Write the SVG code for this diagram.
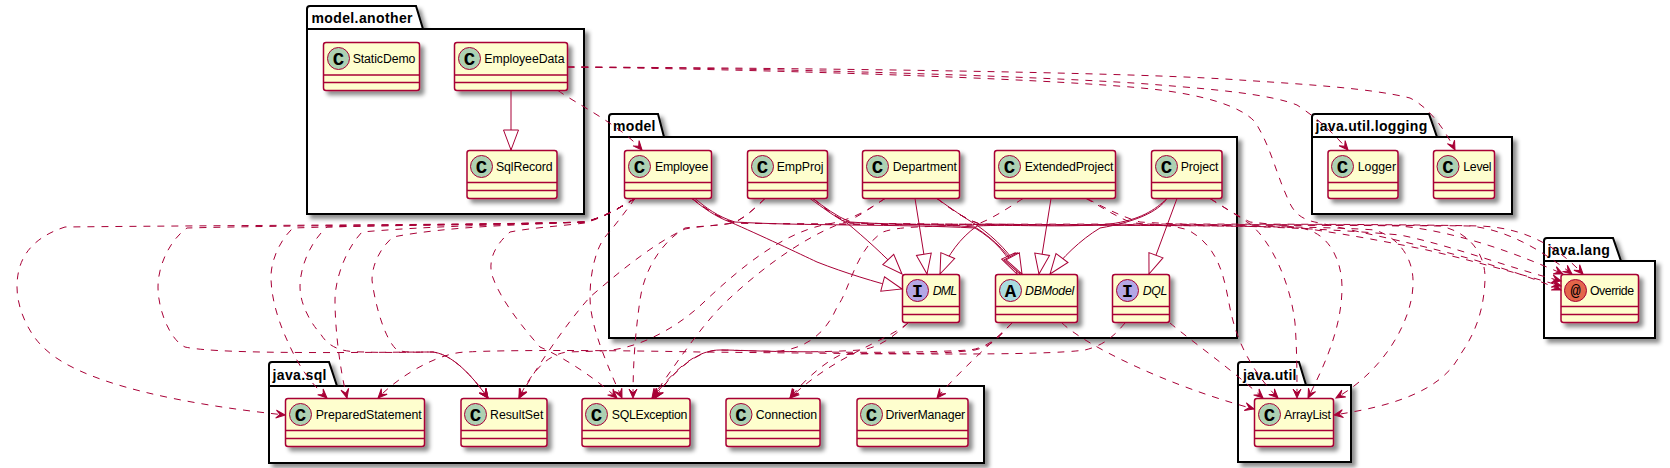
<svg xmlns="http://www.w3.org/2000/svg" width="1670" height="468" viewBox="0 0 1670 468">
<style>
text{font-family:"Liberation Sans",Arial,sans-serif}
.p{fill:#fff;stroke:#000;stroke-width:2;filter:url(#sh)}
.h{fill:none;stroke:#000;stroke-width:2}
.pt{font-size:14px;font-weight:bold;fill:#000}
.b{fill:#FEFECE;stroke:#A80036;stroke-width:1.5;filter:url(#sh)}
.s{stroke:#A80036;stroke-width:1.5;fill:none}
.c{stroke:#A80036;stroke-width:1}
.gc{font-family:"Liberation Mono",monospace;font-weight:bold;font-size:19px;fill:#000;text-anchor:middle}
.t{font-size:12.3px;fill:#000}
.i{font-style:italic}
.d{fill:none;stroke:#A80036;stroke-width:1;stroke-dasharray:7,7;marker-end:url(#ar)}
.e{fill:none;stroke:#A80036;stroke-width:1;marker-end:url(#tr)}
</style>
<defs>
<filter id="sh" x="-20%" y="-20%" width="150%" height="150%"><feDropShadow dx="4" dy="4" stdDeviation="2" flood-color="#000" flood-opacity="0.45"/></filter>
<marker id="ar" markerUnits="userSpaceOnUse" orient="auto" markerWidth="12" markerHeight="12" viewBox="-10 -6 12 12" refX="0" refY="0" overflow="visible"><path d="M0,0L-9,-4L-5,0L-9,4Z" fill="#A80036" stroke="#A80036" stroke-width="1"/></marker>
<marker id="tr" markerUnits="userSpaceOnUse" orient="auto" markerWidth="24" markerHeight="18" viewBox="-22 -9 24 18" refX="0" refY="0" overflow="visible"><path d="M0,0L-20,-7.5L-20,7.5Z" fill="#fff" stroke="#A80036" stroke-width="1"/></marker>
</defs>
<rect width="1670" height="468" fill="#fff"/>

<g id="packages">
<g id="pkg-model-another"><path class="p" d="M307,9Q307,6 310,6L416,6L423,29L584,29L584,214L307,214Z"/><path class="h" d="M307,29L423,29"/><text class="pt" x="311.5" y="23" textLength="101">model.another</text></g>
<g id="pkg-model"><path class="p" d="M609,117Q609,114 612,114L658,114L664,137L1237,137L1237,338L609,338Z"/><path class="h" d="M609,137L664,137"/><text class="pt" x="613" y="131" textLength="42.5">model</text></g>
<g id="pkg-java-util-logging"><path class="p" d="M1312,117Q1312,114 1315,114L1429,114L1437,137L1512,137L1512,214L1312,214Z"/><path class="h" d="M1312,137L1437,137"/><text class="pt" x="1315.5" y="131" textLength="111.7">java.util.logging</text></g>
<g id="pkg-java-lang"><path class="p" d="M1544,241Q1544,238 1547,238L1613,238L1621,261L1655,261L1655,338L1544,338Z"/><path class="h" d="M1544,261L1621,261"/><text class="pt" x="1547.5" y="255" textLength="62.3">java.lang</text></g>
<g id="pkg-java-sql"><path class="p" d="M269,365Q269,362 272,362L329,362L337,386L984,386L984,463L269,463Z"/><path class="h" d="M269,386L337,386"/><text class="pt" x="272.5" y="380" textLength="54">java.sql</text></g>
<g id="pkg-java-util"><path class="p" d="M1238,365Q1238,362 1241,362L1299,362L1306,385L1351,385L1351,462L1238,462Z"/><path class="h" d="M1238,385L1306,385"/><text class="pt" x="1243" y="380" textLength="53.3">java.util</text></g>
</g>

<g id="StaticDemo"><rect class="b" x="323.5" y="42.5" width="96" height="48" rx="2.5"/><path class="s" d="M323.5,75H419.5M323.5,82.5H419.5"/><circle class="c" cx="338.5" cy="58.5" r="11" fill="#ADD1B2"/><text class="gc" x="338.5" y="64.5">C</text><text class="t" x="352.7" y="63" textLength="62.7">StaticDemo</text></g>
<g id="EmployeeData"><rect class="b" x="454.5" y="42.5" width="113" height="48" rx="2.5"/><path class="s" d="M454.5,75H567.5M454.5,82.5H567.5"/><circle class="c" cx="469.5" cy="58.5" r="11" fill="#ADD1B2"/><text class="gc" x="469.5" y="64.5">C</text><text class="t" x="484.3" y="63" textLength="80.3">EmployeeData</text></g>
<g id="SqlRecord"><rect class="b" x="467" y="150.5" width="90" height="48" rx="2.5"/><path class="s" d="M467,182.5H557M467,190.5H557"/><circle class="c" cx="481.5" cy="166.5" r="11" fill="#ADD1B2"/><text class="gc" x="481.5" y="172.5">C</text><text class="t" x="496" y="171" textLength="56.7">SqlRecord</text></g>
<g id="Employee"><rect class="b" x="624.5" y="150.5" width="87" height="48" rx="2.5"/><path class="s" d="M624.5,182.5H711.5M624.5,190.5H711.5"/><circle class="c" cx="639.5" cy="166.5" r="11" fill="#ADD1B2"/><text class="gc" x="639.5" y="172.5">C</text><text class="t" x="655" y="171" textLength="53.3">Employee</text></g>
<g id="EmpProj"><rect class="b" x="747.5" y="150.5" width="80" height="48" rx="2.5"/><path class="s" d="M747.5,182.5H827.5M747.5,190.5H827.5"/><circle class="c" cx="762.5" cy="166.5" r="11" fill="#ADD1B2"/><text class="gc" x="762.5" y="172.5">C</text><text class="t" x="776.7" y="171" textLength="46.7">EmpProj</text></g>
<g id="Department"><rect class="b" x="862.5" y="150.5" width="97" height="48" rx="2.5"/><path class="s" d="M862.5,182.5H959.5M862.5,190.5H959.5"/><circle class="c" cx="877.5" cy="166.5" r="11" fill="#ADD1B2"/><text class="gc" x="877.5" y="172.5">C</text><text class="t" x="892.7" y="171" textLength="64.3">Department</text></g>
<g id="ExtendedProject"><rect class="b" x="994.5" y="150.5" width="121" height="48" rx="2.5"/><path class="s" d="M994.5,182.5H1115.5M994.5,190.5H1115.5"/><circle class="c" cx="1009.5" cy="166.5" r="11" fill="#ADD1B2"/><text class="gc" x="1009.5" y="172.5">C</text><text class="t" x="1024.7" y="171" textLength="88.7">ExtendedProject</text></g>
<g id="Project"><rect class="b" x="1151.5" y="150.5" width="70.5" height="48" rx="2.5"/><path class="s" d="M1151.5,182.5H1222M1151.5,190.5H1222"/><circle class="c" cx="1166.5" cy="166.5" r="11" fill="#ADD1B2"/><text class="gc" x="1166.5" y="172.5">C</text><text class="t" x="1180.7" y="171" textLength="37.7">Project</text></g>
<g id="DML"><rect class="b" x="902.5" y="274.5" width="57" height="48" rx="2.5"/><path class="s" d="M902.5,306.5H959.5M902.5,314.5H959.5"/><circle class="c" cx="917.5" cy="290.5" r="11" fill="#B4A7E5"/><text class="gc" x="917.5" y="296.5">I</text><text class="t i" x="932.7" y="295" textLength="24.3">DML</text></g>
<g id="DBModel"><rect class="b" x="995.5" y="274.5" width="82" height="48" rx="2.5"/><path class="s" d="M995.5,306.5H1077.5M995.5,314.5H1077.5"/><circle class="c" cx="1010.5" cy="290.5" r="11" fill="#A9DCDF"/><text class="gc" x="1010.5" y="296.5">A</text><text class="t i" x="1025" y="295" textLength="49.3">DBModel</text></g>
<g id="DQL"><rect class="b" x="1112.5" y="274.5" width="57" height="48" rx="2.5"/><path class="s" d="M1112.5,306.5H1169.5M1112.5,314.5H1169.5"/><circle class="c" cx="1127.5" cy="290.5" r="11" fill="#B4A7E5"/><text class="gc" x="1127.5" y="296.5">I</text><text class="t i" x="1142.7" y="295" textLength="24.7">DQL</text></g>
<g id="Logger"><rect class="b" x="1328" y="150.5" width="70" height="48" rx="2.5"/><path class="s" d="M1328,182.5H1398M1328,190.5H1398"/><circle class="c" cx="1342.5" cy="166.5" r="11" fill="#ADD1B2"/><text class="gc" x="1342.5" y="172.5">C</text><text class="t" x="1357.7" y="171" textLength="38.3">Logger</text></g>
<g id="Level"><rect class="b" x="1433.5" y="150.5" width="61" height="48" rx="2.5"/><path class="s" d="M1433.5,182.5H1494.5M1433.5,190.5H1494.5"/><circle class="c" cx="1448" cy="166.5" r="11" fill="#ADD1B2"/><text class="gc" x="1448" y="172.5">C</text><text class="t" x="1463.3" y="171" textLength="28.3">Level</text></g>
<g id="Override"><rect class="b" x="1561" y="274.5" width="77.5" height="48" rx="2.5"/><path class="s" d="M1561,306.5H1638.5M1561,314.5H1638.5"/><circle class="c" cx="1575.5" cy="290.5" r="11" fill="#E3664A"/><text class="gc" x="1575.5" y="296" style="font-size:17px;font-weight:normal">@</text><text class="t" x="1590" y="295" textLength="44">Override</text></g>
<g id="PreparedStatement"><rect class="b" x="285.5" y="398.5" width="139" height="48" rx="2.5"/><path class="s" d="M285.5,430.5H424.5M285.5,438.5H424.5"/><circle class="c" cx="300.5" cy="414.5" r="11" fill="#ADD1B2"/><text class="gc" x="300.5" y="420.5">C</text><text class="t" x="315.7" y="419" textLength="106">PreparedStatement</text></g>
<g id="ResultSet"><rect class="b" x="461" y="398.5" width="86" height="48" rx="2.5"/><path class="s" d="M461,430.5H547M461,438.5H547"/><circle class="c" cx="475.5" cy="414.5" r="11" fill="#ADD1B2"/><text class="gc" x="475.5" y="420.5">C</text><text class="t" x="490" y="419" textLength="53.3">ResultSet</text></g>
<g id="SQLException"><rect class="b" x="582" y="398.5" width="108" height="48" rx="2.5"/><path class="s" d="M582,430.5H690M582,438.5H690"/><circle class="c" cx="596.5" cy="414.5" r="11" fill="#ADD1B2"/><text class="gc" x="596.5" y="420.5">C</text><text class="t" x="611.7" y="419" textLength="75.7">SQLException</text></g>
<g id="Connection"><rect class="b" x="726" y="398.5" width="94" height="48" rx="2.5"/><path class="s" d="M726,430.5H820M726,438.5H820"/><circle class="c" cx="741" cy="414.5" r="11" fill="#ADD1B2"/><text class="gc" x="741" y="420.5">C</text><text class="t" x="755.7" y="419" textLength="61.5">Connection</text></g>
<g id="DriverManager"><rect class="b" x="857" y="398.5" width="111" height="48" rx="2.5"/><path class="s" d="M857,430.5H968M857,438.5H968"/><circle class="c" cx="871.5" cy="414.5" r="11" fill="#ADD1B2"/><text class="gc" x="871.5" y="420.5">C</text><text class="t" x="885.5" y="419" textLength="79.7">DriverManager</text></g>
<g id="ArrayList"><rect class="b" x="1254.5" y="398.5" width="79" height="48" rx="2.5"/><path class="s" d="M1254.5,430.5H1333.5M1254.5,438.5H1333.5"/><circle class="c" cx="1269.5" cy="414.5" r="11" fill="#ADD1B2"/><text class="gc" x="1269.5" y="420.5">C</text><text class="t" x="1284" y="419" textLength="47">ArrayList</text></g>

<g id="connectors">
<path class="e" d="M511,90.5L511,150"/>
<path class="e" d="M692,198.5C702,207 716,217 730,222C760,235 800,254 817,262C845,273 875,282 902,289"/>
<path class="e" d="M695,198.5C705,207 718,217 735,222C800,226 900,224 975,228C995,240 1008,255 1017,274"/>
<path class="e" d="M810,198.5C822,207 835,217 847,223C865,238 885,256 902,274"/>
<path class="e" d="M813,198.5C824,207 836,216 850,222C890,225 940,224 975,227C995,240 1010,255 1020,274"/>
<path class="e" d="M915,198.5L927,274"/>
<path class="e" d="M937,198.5C950,208 965,218 978,226C995,238 1012,255 1022,274"/>
<path class="e" d="M1167,198.5C1155,210 1140,220 1110,224C1060,228 1010,224 977,226C960,238 948,255 940,274"/>
<path class="e" d="M1167,198.5C1158,212 1135,222 1100,228C1080,240 1062,258 1050,274"/>
<path class="e" d="M1051,198.5L1039,274"/>
<path class="e" d="M1177,198.5L1149,274"/>

<path class="d" d="M558,90.5C575,103 620,125 642,150"/>
<path class="d" d="M567.5,67C800,68 1130,72 1240,80C1300,84 1370,88 1410,98C1430,108 1445,130 1455,150"/>
<path class="d" d="M567.5,67C800,68 1080,78 1160,85C1210,89 1270,94 1297,105C1320,120 1335,135 1348,150"/>
<path class="d" d="M567.5,67C800,70 1080,80 1160,90C1200,95 1240,105 1255,122C1270,145 1275,170 1287,197C1293,212 1300,220 1320,223C1370,235 1480,255 1561,290"/>

<path class="d" d="M692,198.5C705,208 718,218 735,223C850,226 1300,222 1480,226C1530,228 1560,250 1583,274"/>
<path class="d" d="M813,198.5C825,208 835,218 850,223C1000,226 1350,224 1470,226C1510,230 1545,253 1572,274"/>
<path class="d" d="M937,198.5C950,208 962,218 980,224C1100,226 1300,224 1400,226C1460,232 1520,255 1563,274"/>
<path class="d" d="M1087,198.5C1105,208 1120,216 1140,222C1200,226 1300,226 1400,235C1450,245 1510,268 1561,281"/>
<path class="d" d="M1210,198.5C1225,208 1238,216 1250,222C1290,226 1340,232 1427,250C1470,260 1520,274 1561,286"/>

<path class="d" d="M692,198.5C705,208 718,218 735,223C900,226 1250,224 1300,228C1330,232 1342,262 1342,287C1342,330 1322,370 1308,398"/>
<path class="d" d="M813,198.5C825,208 835,218 850,223C1000,226 1300,224 1375,230C1405,240 1414,265 1413,285C1412,320 1385,370 1336,398"/>
<path class="d" d="M937,198.5C950,208 962,218 980,224C1100,226 1300,224 1440,226C1470,232 1486,255 1485,280C1484,305 1478,330 1460,355C1440,395 1380,408 1334,415"/>
<path class="d" d="M1086,198.5C1100,206 1115,216 1130,222C1150,226 1170,224 1188,230C1225,250 1225,290 1232,317C1240,350 1258,378 1278,398"/>
<path class="d" d="M1210,198.5C1225,208 1238,216 1250,224C1270,240 1290,280 1295,323C1297,350 1297,375 1297,398"/>
<path class="d" d="M1170,323C1190,340 1230,368 1263,398"/>
<path class="d" d="M1062,323C1085,345 1165,385 1254,409"/>

<path class="d" d="M1125,323C1115,335 1105,345 1085,350C1040,356 900,354 700,352C600,350 500,350 467,352C440,352 400,375 378,398"/>
<path class="d" d="M908,323C885,342 835,355 790,398"/>
<path class="d" d="M1012,323C1000,335 995,345 975,350C930,356 870,352 840,355C820,365 800,385 790,398"/>
<path class="d" d="M1012,323C995,340 960,370 937,398"/>
<path class="d" d="M1012,323C1000,335 990,347 970,350C900,354 800,352 720,350C695,350 670,375 655,398"/>
<path class="d" d="M908,323C895,335 880,348 860,350C800,354 750,350 720,350C695,350 672,372 653,398"/>
<path class="d" d="M1023,198.5C1005,210 990,220 975,225C925,227 900,226 883,232C855,250 850,290 837,307C825,335 805,348 780,351C760,352 740,350 720,350C695,350 670,375 655,398"/>

<path class="d" d="M885,198.5C870,208 855,220 823,225C780,235 740,268 703,303C680,325 640,350 600,351L567,352C545,355 530,375 519,398"/>
<path class="d" d="M885,198.5C870,208 855,220 837,225C800,240 760,270 730,298C705,320 675,365 652,398"/>
<path class="d" d="M765,198.5C755,208 745,218 733,223C715,226 700,226 685,229C650,245 610,280 590,297C565,325 535,370 519,398"/>
<path class="d" d="M765,198.5C755,208 745,218 733,223C715,226 700,226 685,228C665,240 645,265 640,300C635,335 633,365 633,398"/>

<path class="d" d="M635,198.5C620,207 608,216 585,222C480,225 250,225 65,227C25,240 17,265 17,287C17,310 30,335 43,347C80,385 190,405 285,415"/>
<path class="d" d="M635,198.5C620,207 608,216 585,222C480,225 300,225 187,228C170,240 158,265 158,287C158,310 170,340 185,347C220,355 380,352 433,352C455,355 475,380 488,398"/>
<path class="d" d="M635,198.5C620,207 608,216 585,222C480,225 380,225 293,228C280,240 271,260 271,277C271,300 280,325 287,340C300,370 313,385 327,398"/>
<path class="d" d="M635,198.5C620,207 608,216 585,222C480,225 400,225 327,227C312,240 300,265 300,287C300,305 312,325 320,333C330,350 345,352 365,352C390,353 415,352 433,352C455,355 475,380 488,398"/>
<path class="d" d="M635,198.5C620,207 608,216 585,222C500,225 430,226 362,232C345,250 335,280 335,300C335,330 340,370 347,398"/>
<path class="d" d="M635,198.5C620,207 608,216 585,222C520,225 450,226 393,237C380,248 372,265 372,280C375,305 385,340 397,350C405,353 420,352 433,352C455,355 475,380 488,398"/>
<path class="d" d="M635,198.5C620,207 608,216 585,223C560,226 530,228 510,232C495,245 488,260 492,275C500,300 525,330 540,347C565,358 595,378 617,398"/>
<path class="d" d="M635,198.5C628,208 618,222 605,237C595,250 590,275 590,297C590,320 600,350 622,398"/>
</g>
</svg>
